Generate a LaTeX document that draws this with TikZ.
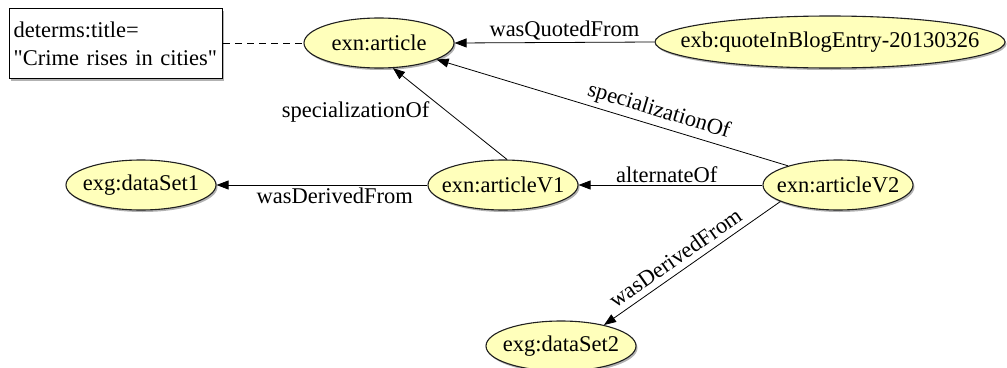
\documentclass[tikz,border=0pt]{standalone}
\usepackage{fontspec}
\setmainfont{Liberation Serif}[Ligatures=TeXOff]
\usetikzlibrary{shapes.geometric,arrows.meta,shadows}
\definecolor{entityfill}{HTML}{FFFFBB}
\definecolor{edgeline}{HTML}{202020}
\tikzset{
  entity/.style={ellipse, draw=edgeline, line width=1.1pt, fill=entityfill,
    minimum width=150pt, minimum height=50pt, inner xsep=-40pt, inner ysep=0pt,
    drop shadow={shadow xshift=1.5pt, shadow yshift=-2pt, fill=black, opacity=0.3}},
  attrbox/.style={rectangle, draw=black, line width=1.4pt, fill=white, align=left,
    anchor=north west, minimum width=213pt, minimum height=70pt, inner xsep=4pt,
    text width=205pt,
    drop shadow={shadow xshift=1.5pt, shadow yshift=-2pt, fill=black, opacity=0.3}},
  rel/.style={draw=black, line width=0.8pt, -{Triangle[length=12pt,width=9pt]}},
  lbl/.style={font=\fontsize{22.5}{26}\selectfont, inner sep=2pt},
}
\begin{document}
\begin{tikzpicture}[x=1pt, y=-1pt, font=\fontsize{22.5}{28}\selectfont]
\useasboundingbox (0,0) rectangle (1007,367);

\node[attrbox] (title) at (9,8) {determs:title=\\"Crime rises in cities"};

\node[entity] (article) at (379,43) {exn:article};
\node[entity, minimum width=350pt, minimum height=52pt] (quote) at (830,42) {exb:quoteInBlogEntry-20130326};
\node[entity] (v1) at (503,185) {exn:articleV1};
\node[entity] (v2) at (838,185) {exn:articleV2};
\node[entity] (ds1) at (141,185) {exg:dataSet1};
\node[entity] (ds2) at (561,346) {exg:dataSet2};

\draw[dashed, line width=0.8pt, dash pattern=on 7pt off 5pt] (title.east |- article.west) -- (article.west);

\draw[rel] (quote.west) -- node[lbl, above, pos=0.45] {wasQuotedFrom} (article.east);
\draw[rel] (v1.81) -- node[lbl, left, pos=0.52, xshift=-16pt] {specializationOf} (article.-61);
\draw[rel] (v2.159) -- node[lbl, above=2pt, sloped, pos=0.38] {specializationOf} (article.-16);
\draw[rel] (v2.west) -- node[lbl, above, pos=0.52] {alternateOf} (v1.east);
\draw[rel] (v1.west) -- node[lbl, below, pos=0.44] {wasDerivedFrom} (ds1.east);
\draw[rel] (v2.196) -- node[lbl, above=4pt, sloped, pos=0.55] {wasDerivedFrom} (ds2.26);
\end{tikzpicture}
\end{document}
